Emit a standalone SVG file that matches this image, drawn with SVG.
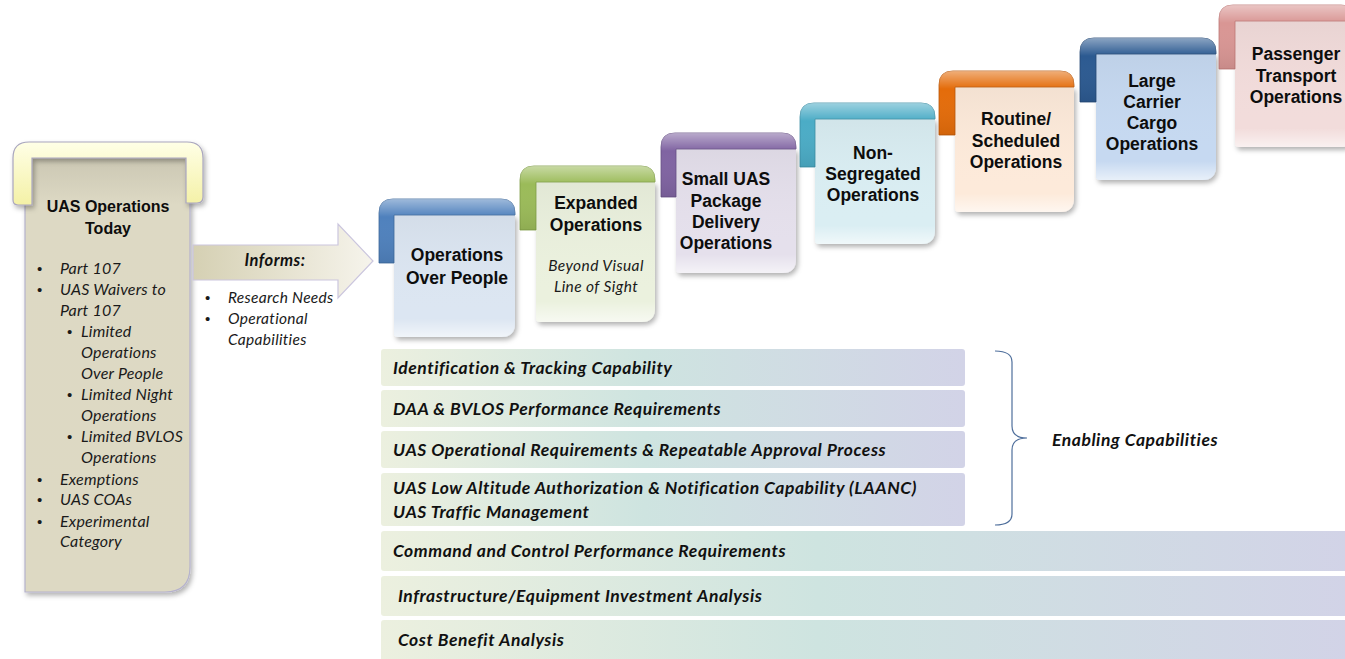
<svg xmlns="http://www.w3.org/2000/svg" width="1345" height="659" viewBox="0 0 1345 659">
<defs>
<style>
.st{font-family:"Liberation Sans",Arial,sans-serif;font-weight:bold;font-size:17.5px;fill:#0d0d0d;text-anchor:middle}
.hd{font-family:"Liberation Sans",Arial,sans-serif;font-weight:bold;font-size:16px;fill:#0d0d0d;text-anchor:middle}
.it{font-family:Lato,"Liberation Sans",sans-serif;font-style:italic;font-size:16px;letter-spacing:0.2px;fill:#1a1a1a}
.itc{font-family:Lato,"Liberation Sans",sans-serif;font-style:italic;font-size:15.5px;letter-spacing:0.4px;fill:#1a1a1a;text-anchor:middle}
.bt{font-family:Lato,"Liberation Sans",sans-serif;font-style:italic;font-weight:bold;font-size:17.5px;letter-spacing:0.55px;fill:#111}
.bul{font-family:"Liberation Sans",Arial,sans-serif;font-size:15px;fill:#1a1a1a}
.bar{stroke:none}
</style>
<linearGradient id="barGrad" x1="0" y1="0" x2="1" y2="0">
<stop offset="0" stop-color="#ECF0DF"/>
<stop offset="0.45" stop-color="#CEE4E0"/>
<stop offset="1" stop-color="#D2D3E7"/>
</linearGradient>
<linearGradient id="gloss" x1="0" y1="0" x2="0" y2="1">
<stop offset="0" stop-color="#fff" stop-opacity="0.45"/>
<stop offset="0.28" stop-color="#fff" stop-opacity="0"/>
<stop offset="1" stop-color="#000" stop-opacity="0.08"/>
</linearGradient>
<linearGradient id="innerShade" x1="0" y1="0" x2="0" y2="1">
<stop offset="0" stop-color="#000" stop-opacity="0.04"/>
<stop offset="0.85" stop-color="#fff" stop-opacity="0"/>
<stop offset="1" stop-color="#fff" stop-opacity="0.6"/>
</linearGradient>
<linearGradient id="arrowGrad" x1="0" y1="0" x2="1" y2="0">
<stop offset="0" stop-color="#D5D0B3"/>
<stop offset="1" stop-color="#F6F4EC"/>
</linearGradient>
<linearGradient id="khaki" x1="0" y1="0" x2="0" y2="1">
<stop offset="0" stop-color="#C9C5B1"/>
<stop offset="0.12" stop-color="#DDD9C4"/>
<stop offset="1" stop-color="#DDD9C3"/>
</linearGradient>
<linearGradient id="yellow" x1="0" y1="0" x2="0" y2="1">
<stop offset="0" stop-color="#FFFFE6"/>
<stop offset="1" stop-color="#F4F1A6"/>
</linearGradient>
<filter id="sh" x="-10%" y="-10%" width="125%" height="125%">
<feDropShadow dx="2" dy="3" stdDeviation="2.5" flood-color="#000" flood-opacity="0.3"/>
</filter>
</defs>
<rect width="1345" height="659" fill="#fff"/>

<g id="uas-today">
<path d="M25,152 L190,152 L190,567 Q190,592 165,592 L25,592 Z" fill="url(#khaki)" stroke="#B5B2CC" stroke-width="1.2" filter="url(#sh)"/>
<path d="M13,200 L13,158 Q13,142 29,142 L187,142 Q203,142 203,158 L203,197 Q203,203 197,203 L186,203 L186,158 L32,158 L32,205 L18,205 Q13,205 13,200 Z" fill="url(#yellow)" stroke="#A9A6BE" stroke-width="1.2" filter="url(#sh)"/>
<text class="hd" x="108" y="212">UAS Operations</text>
<text class="hd" x="108" y="234">Today</text>
<text class="bul" x="37" y="274">•</text><text class="it" x="60" y="274">Part 107</text>
<text class="bul" x="37" y="295">•</text><text class="it" x="60" y="295">UAS Waivers to</text>
<text class="it" x="60" y="316">Part 107</text>
<text class="bul" x="67" y="337">•</text><text class="it" x="81" y="337">Limited</text>
<text class="it" x="81" y="358">Operations</text>
<text class="it" x="81" y="379">Over People</text>
<text class="bul" x="67" y="400">•</text><text class="it" x="81" y="400">Limited Night</text>
<text class="it" x="81" y="421">Operations</text>
<text class="bul" x="67" y="442">•</text><text class="it" x="81" y="442">Limited BVLOS</text>
<text class="it" x="81" y="463">Operations</text>
<text class="bul" x="37" y="485">•</text><text class="it" x="60" y="485">Exemptions</text>
<text class="bul" x="37" y="505">•</text><text class="it" x="60" y="505">UAS COAs</text>
<text class="bul" x="37" y="527">•</text><text class="it" x="60" y="527">Experimental</text>
<text class="it" x="60" y="547">Category</text>
</g>

<g id="connectors">
<g id="informs">
<path d="M193,245 L338,245 L338,224 L373,261 L338,298 L338,280 L193,280 Z" fill="url(#arrowGrad)" stroke="#CBC6DE" stroke-width="1.2"/>
<text class="bt" x="275" y="266" text-anchor="middle" style="font-size:16.5px;letter-spacing:0.5px">Informs:</text>
<text class="bul" x="205" y="303">•</text><text class="it" x="228" y="303" style="font-size:15.5px;letter-spacing:0.3px">Research Needs</text>
<text class="bul" x="205" y="324">•</text><text class="it" x="228" y="324" style="font-size:15.5px;letter-spacing:0.3px">Operational</text>
<text class="it" x="228" y="345" style="font-size:15.5px;letter-spacing:0.3px">Capabilities</text>
</g>
<path id="brace" d="M995,351 Q1012,351 1012,362 L1012,426 Q1012,438 1027,438 Q1012,438 1012,450 L1012,514 Q1012,525 995,525" fill="none" stroke="#4F6F9C" stroke-width="1.2"/>
</g>

<g id="step1">
<path d="M394,215 L515,215 L515,323 Q515,337 501,337 L398,337 Q394,337 394,333 Z" fill="#DCE6F2" filter="url(#sh)"/>
<path d="M394,215 L515,215 L515,323 Q515,337 501,337 L398,337 Q394,337 394,333 Z" fill="url(#innerShade)"/>
<path d="M379,263 L379,213 Q379,199 393,199 L501,199 Q515,199 515,213 L515,215 L394,215 L394,263 Z" fill="#4F81BD" stroke="#3C6799" stroke-width="0.8"/>
<path d="M379,263 L379,213 Q379,199 393,199 L501,199 Q515,199 515,213 L515,215 L394,215 L394,263 Z" fill="url(#gloss)"/>
<text class="st" x="457" y="261">Operations</text>
<text class="st" x="457" y="284">Over People</text>
</g>

<g id="step2">
<path d="M536,182 L655,182 L655,308 Q655,322 641,322 L540,322 Q536,322 536,318 Z" fill="#EBF1DE" filter="url(#sh)"/>
<path d="M536,182 L655,182 L655,308 Q655,322 641,322 L540,322 Q536,322 536,318 Z" fill="url(#innerShade)"/>
<path d="M520,230 L520,180 Q520,166 534,166 L641,166 Q655,166 655,180 L655,182 L536,182 L536,230 Z" fill="#9BBB59" stroke="#7E9C45" stroke-width="0.8"/>
<path d="M520,230 L520,180 Q520,166 534,166 L641,166 Q655,166 655,180 L655,182 L536,182 L536,230 Z" fill="url(#gloss)"/>
<text class="st" x="596" y="209">Expanded</text>
<text class="st" x="596" y="231">Operations</text>
<text class="itc" x="596" y="271">Beyond Visual</text>
<text class="itc" x="596" y="292">Line of Sight</text>
</g>

<g id="step3">
<path d="M676,149 L796,149 L796,259 Q796,273 782,273 L680,273 Q676,273 676,269 Z" fill="#E5E0EC" filter="url(#sh)"/>
<path d="M676,149 L796,149 L796,259 Q796,273 782,273 L680,273 Q676,273 676,269 Z" fill="url(#innerShade)"/>
<path d="M661,197 L661,147 Q661,133 675,133 L782,133 Q796,133 796,147 L796,149 L676,149 L676,197 Z" fill="#8064A2" stroke="#664F84" stroke-width="0.8"/>
<path d="M661,197 L661,147 Q661,133 675,133 L782,133 Q796,133 796,147 L796,149 L676,149 L676,197 Z" fill="url(#gloss)"/>
<text class="st" x="726" y="185">Small UAS</text>
<text class="st" x="726" y="207">Package</text>
<text class="st" x="726" y="228">Delivery</text>
<text class="st" x="726" y="249">Operations</text>
</g>

<g id="step4">
<path d="M815,119 L935,119 L935,230 Q935,244 921,244 L819,244 Q815,244 815,240 Z" fill="#DAEEF3" filter="url(#sh)"/>
<path d="M815,119 L935,119 L935,230 Q935,244 921,244 L819,244 Q815,244 815,240 Z" fill="url(#innerShade)"/>
<path d="M800,167 L800,117 Q800,103 814,103 L921,103 Q935,103 935,117 L935,119 L815,119 L815,167 Z" fill="#4BACC6" stroke="#3A8DA3" stroke-width="0.8"/>
<path d="M800,167 L800,117 Q800,103 814,103 L921,103 Q935,103 935,117 L935,119 L815,119 L815,167 Z" fill="url(#gloss)"/>
<text class="st" x="873" y="159">Non-</text>
<text class="st" x="873" y="180">Segregated</text>
<text class="st" x="873" y="201">Operations</text>
</g>

<g id="step5">
<path d="M955,87 L1074,87 L1074,198 Q1074,212 1060,212 L959,212 Q955,212 955,208 Z" fill="#FDEADA" filter="url(#sh)"/>
<path d="M955,87 L1074,87 L1074,198 Q1074,212 1060,212 L959,212 Q955,212 955,208 Z" fill="url(#innerShade)"/>
<path d="M939,135 L939,85 Q939,71 953,71 L1060,71 Q1074,71 1074,85 L1074,87 L955,87 L955,135 Z" fill="#E46C0A" stroke="#B85607" stroke-width="0.8"/>
<path d="M939,135 L939,85 Q939,71 953,71 L1060,71 Q1074,71 1074,85 L1074,87 L955,87 L955,135 Z" fill="url(#gloss)"/>
<text class="st" x="1016" y="125">Routine/</text>
<text class="st" x="1016" y="147">Scheduled</text>
<text class="st" x="1016" y="168">Operations</text>
</g>

<g id="step6">
<path d="M1096,54 L1216,54 L1216,166 Q1216,180 1202,180 L1100,180 Q1096,180 1096,176 Z" fill="#C6D9F1" filter="url(#sh)"/>
<path d="M1096,54 L1216,54 L1216,166 Q1216,180 1202,180 L1100,180 Q1096,180 1096,176 Z" fill="url(#innerShade)"/>
<path d="M1080,102 L1080,52 Q1080,38 1094,38 L1202,38 Q1216,38 1216,52 L1216,54 L1096,54 L1096,102 Z" fill="#2C5A91" stroke="#234874" stroke-width="0.8"/>
<path d="M1080,102 L1080,52 Q1080,38 1094,38 L1202,38 Q1216,38 1216,52 L1216,54 L1096,54 L1096,102 Z" fill="url(#gloss)"/>
<text class="st" x="1152" y="87">Large</text>
<text class="st" x="1152" y="108">Carrier</text>
<text class="st" x="1152" y="129">Cargo</text>
<text class="st" x="1152" y="150">Operations</text>
</g>

<g id="step7">
<path d="M1235,21 L1355,21 L1355,133 Q1355,147 1341,147 L1239,147 Q1235,147 1235,143 Z" fill="#F2DCDB" filter="url(#sh)"/>
<path d="M1235,21 L1355,21 L1355,133 Q1355,147 1341,147 L1239,147 Q1235,147 1235,143 Z" fill="url(#innerShade)"/>
<path d="M1219,69 L1219,19 Q1219,5 1233,5 L1341,5 Q1355,5 1355,19 L1355,21 L1235,21 L1235,69 Z" fill="#D99694" stroke="#BC7775" stroke-width="0.8"/>
<path d="M1219,69 L1219,19 Q1219,5 1233,5 L1341,5 Q1355,5 1355,19 L1355,21 L1235,21 L1235,69 Z" fill="url(#gloss)"/>
<text class="st" x="1296" y="60">Passenger</text>
<text class="st" x="1296" y="82">Transport</text>
<text class="st" x="1296" y="103">Operations</text>
</g>

<g id="bar1"><rect class="bar" x="381" y="349" width="584" height="37" rx="3" fill="url(#barGrad)"/><text class="bt" x="393" y="374">Identification &amp; Tracking Capability</text></g>
<g id="bar2"><rect class="bar" x="381" y="390" width="584" height="37" rx="3" fill="url(#barGrad)"/><text class="bt" x="393" y="415">DAA &amp; BVLOS Performance Requirements</text></g>
<g id="bar3"><rect class="bar" x="381" y="431" width="584" height="37" rx="3" fill="url(#barGrad)"/><text class="bt" x="393" y="456">UAS Operational Requirements &amp; Repeatable Approval Process</text></g>
<g id="bar4"><rect class="bar" x="381" y="473" width="584" height="53" rx="3" fill="url(#barGrad)"/><text class="bt" x="393" y="494">UAS Low Altitude Authorization &amp; Notification Capability (LAANC)</text><text class="bt" x="393" y="518">UAS Traffic Management</text></g>
<g id="bar5"><rect class="bar" x="381" y="531" width="970" height="40" rx="3" fill="url(#barGrad)"/><text class="bt" x="393" y="557">Command and Control Performance Requirements</text></g>
<g id="bar6"><rect class="bar" x="381" y="576" width="970" height="40" rx="3" fill="url(#barGrad)"/><text class="bt" x="398" y="602">Infrastructure/Equipment Investment Analysis</text></g>
<g id="bar7"><rect class="bar" x="381" y="620" width="970" height="45" rx="3" fill="url(#barGrad)"/><text class="bt" x="398" y="646">Cost Benefit Analysis</text></g>

<g id="enabling"><text class="bt" x="1052" y="446">Enabling Capabilities</text></g>
</svg>
